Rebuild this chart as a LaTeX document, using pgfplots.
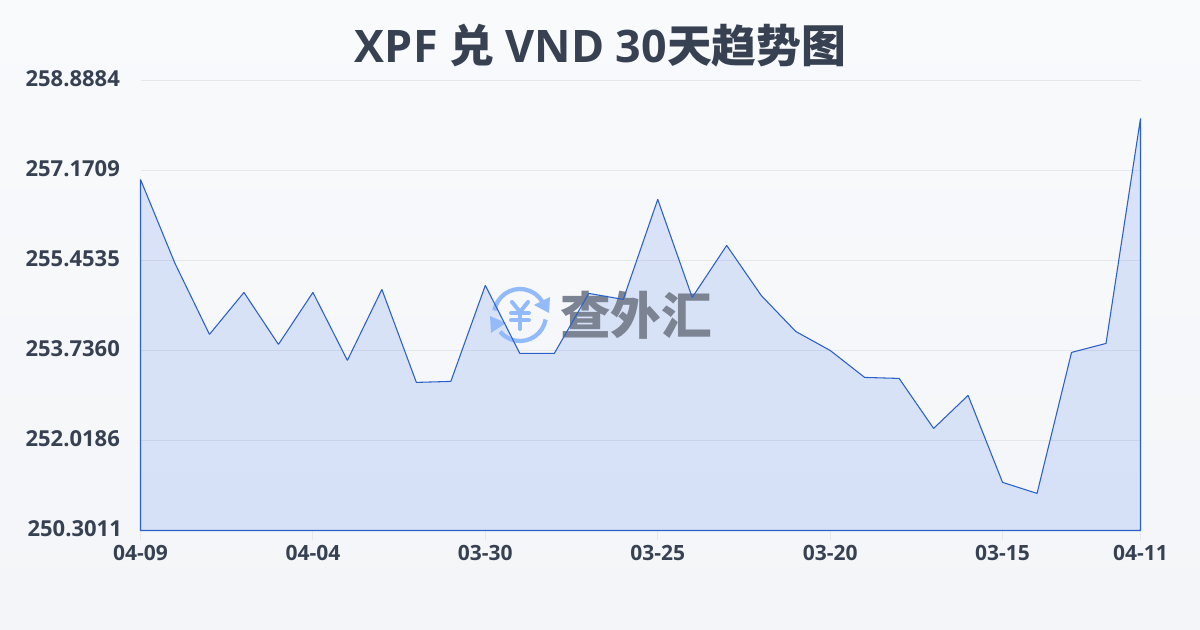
\documentclass[border=0pt]{standalone}
\usepackage{fontspec}
\usepackage{pgfplots}
\usepackage{pgfplotstable}
\pgfplotsset{compat=1.18}
\setmainfont{Open Sans}
\newfontfamily\cjk{Noto Sans CJK SC}
\definecolor{inktext}{HTML}{374151}
\definecolor{bgtop}{HTML}{F9FAFC}
\definecolor{bgbot}{HTML}{F3F5F8}
\definecolor{gridc}{HTML}{E5E7EB}
\definecolor{linec}{HTML}{2B60C8}
\definecolor{areac}{HTML}{2563EB}
\definecolor{logoblue}{HTML}{93BBFB}
\definecolor{logogrey}{HTML}{7C8494}
\pgfplotstableread{
x y
0 257.0000
1 255.3980
2 254.0430
3 254.8440
4 253.8520
5 254.8440
6 253.5470
7 254.9010
8 253.1270
9 253.1460
10 254.9780
11 253.6800
12 253.6800
13 254.8250
14 254.7110
15 256.6190
16 254.7490
17 255.7410
18 254.7870
19 254.1000
20 253.7370
21 253.2220
22 253.2030
23 252.2490
24 252.8790
25 251.2190
26 251.0090
27 253.6990
28 253.8710
29 258.1650
}\ratedata
\pgfplotsset{frame/.style={
  at={(105.375pt,74.625pt)},anchor=south west,
  scale only axis,width=750pt,height=337.5pt,
  xmin=0,xmax=29,ymin=250.3011,ymax=258.8884,
  clip=false}}
\begin{document}
\begin{tikzpicture}
% page is 1200x630 px, 1px = 0.75pt
\path[use as bounding box] (0,0) rectangle (900pt,472.5pt);
\shade[top color=bgtop,bottom color=bgbot,draw=none] (0,0) rectangle (900pt,472.5pt);
\node[font=\bfseries\fontsize{33.6pt}{40pt}\selectfont,text=inktext,anchor=center,inner sep=0pt]
  at (450.5pt,438pt) {XPF {\cjk 兑} VND 30{\cjk 天趋势图}};
% grid, ticks and area
\begin{axis}[
  frame,
  axis x line*=bottom,axis y line*=left,
  axis line style={draw=none},
  xtick={0,5,10,15,20,25,29},
  xticklabels={04-09,04-04,03-30,03-25,03-20,03-15,04-11},
  ytick={250.3011,252.0186,253.7360,255.4535,257.1709,258.8884},
  yticklabels={250.3011\kern-1.5pt,252.0186,253.7360,255.4535,257.1709,258.8884},
  xticklabel style={font=\bfseries\fontsize{15.75pt}{18pt}\selectfont,text=inktext,yshift=0.25pt},
  yticklabel style={font=\bfseries\fontsize{16.5pt}{19pt}\selectfont,text=inktext,xshift=-4.5pt,yshift=1pt},
  x tick style={draw=gridc,line width=0.75pt},
  major tick length=7.5pt,
  tick align=outside,
  ymajorgrids=true,
  major grid style={draw=gridc,line width=0.75pt},
  y tick style={draw=none},
]
\addplot[draw=none,fill=areac,fill opacity=0.14] table[x=x,y=y] {\ratedata} \closedcycle;
\end{axis}
% watermark, px coordinates
\begin{scope}[shift={(0pt,472.5pt)},x=0.75pt,y=-0.75pt]
  \draw[logoblue,line width=3.2pt] ([shift={(-170:26)}]520,315) arc[start angle=-170,end angle=-30,radius=26];
  \fill[logoblue] (550,297) -- (549,313) -- (534,305) -- cycle;
  \draw[logoblue,line width=3.2pt] ([shift={(10:26)}]520,315) arc[start angle=10,end angle=140,radius=26];
  \fill[logoblue] (490,316) -- (506,323) -- (491,333) -- cycle;
  \draw[logoblue,line width=3pt,line cap=round,line join=round] (512,302) -- (520,312) -- (528,302);
  \draw[logoblue,line width=3pt,line cap=round] (511,313) -- (529,313) (511,320) -- (529,320) (520,312) -- (520,329);
  \node[font=\cjk\bfseries\fontsize{38pt}{40pt}\selectfont,text=logogrey,anchor=center,inner sep=0pt]
    at (636,315) {查外汇};
\end{scope}
% outline on top of the watermark
\begin{axis}[frame,hide axis]
\addplot[draw=linec,line width=0.8pt,fill=none,line join=bevel] table[x=x,y=y] {\ratedata} \closedcycle;
\end{axis}
\end{tikzpicture}
\end{document}
